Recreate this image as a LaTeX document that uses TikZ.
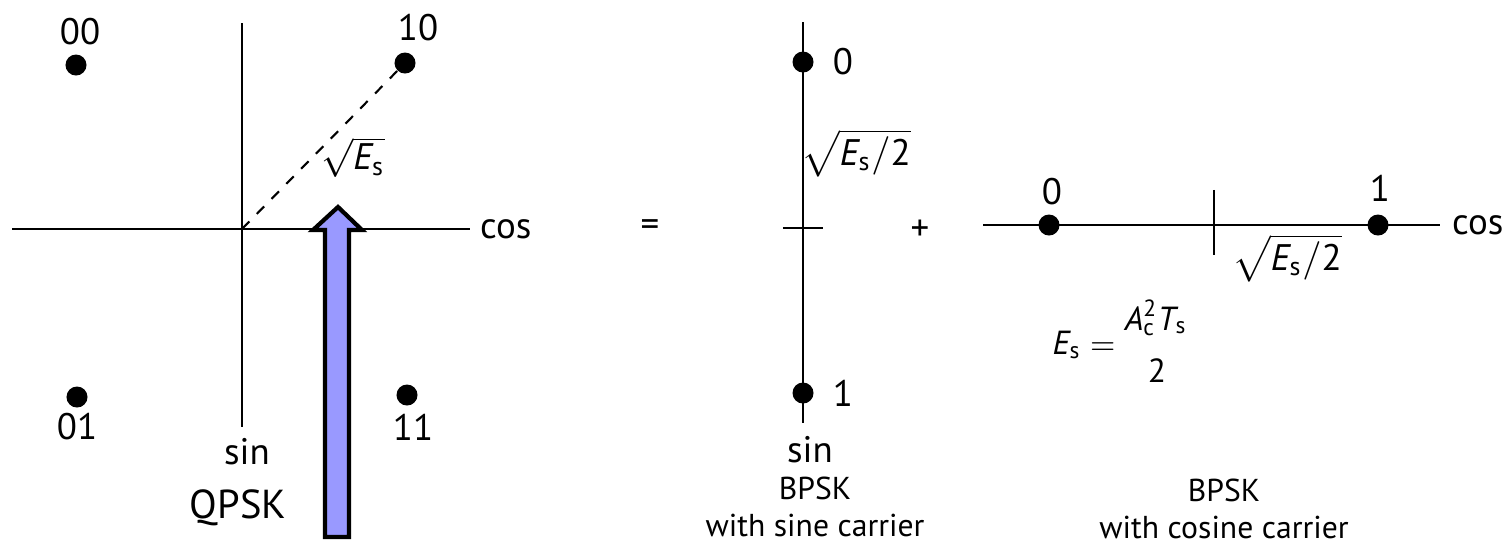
\documentclass[tikz,border=0pt]{standalone}
\usepackage{amsmath}
\usepackage{fontspec}
\setmainfont{PT Sans}
\definecolor{arrowblue}{RGB}{153,153,255}
\newcommand{\Esym}{\mathit{E}_\mathrm{s}}
\tikzset{
  dot/.style={circle, fill=black, inner sep=0pt, minimum size=0.21cm},
  axis/.style={line width=0.8pt},
  lbl/.style={font=\fontsize{10.5}{12}\selectfont, inner sep=1pt},
  frm/.style={font=\fontsize{9.5}{11}\selectfont, inner sep=0pt},
  capt/.style={font=\fontsize{9}{10.5}\selectfont, align=center},
}

\begin{document}
\begin{tikzpicture}[x=0.01cm, y=-0.01cm]
  \useasboundingbox (0,0) rectangle (1503,544);
  % QPSK
  \coordinate (qo) at (242,229);
  \coordinate (qw) at (12,229);
  \coordinate (qe) at (470,229);
  \coordinate (qn) at (242,23);
  \coordinate (qs) at (242,427);
  \draw[axis] (qw) -- (qe);
  \draw[line width=0.6pt] (qn) -- (qs);
  \node[lbl, anchor=west] (qcos) at ([xshift=0.06cm]qe) {cos};
  \node[lbl] (qsin) at (247,452) {sin};
  \node[dot] (d00) at (76,65) {};
  \node[lbl] (l00) at (80,32) {00};
  \node[dot] (d10) at (405,63) {};
  \node[lbl] (l10) at (418,28) {10};
  \node[dot] (d01) at (77,397) {};
  \node[lbl] (l01) at (77,427) {01};
  \node[dot] (d11) at (407,395) {};
  \node[lbl] (l11) at (413,427) {11};
  \draw[dashed, line width=0.6pt] (qo) -- (d10);
  \node[lbl] (qes) at (353,157) {$\sqrt{\Esym}$};
  \node[font=\fontsize{11.5}{13}\selectfont] (qpsk) at (238,508) {QPSK};
  % blue arrow
  \draw[line width=1.2pt, fill=arrowblue] (338,207) -- (362,230) -- (349,230)
    -- (349,537) -- (325,537) -- (325,230) -- (313,230) -- cycle;
  \node[lbl] (eq) at (650,228) {=};
  % BPSK, sine carrier
  \coordinate (sn) at (803,22);
  \coordinate (ss) at (803,423);
  \coordinate (so) at (803,228);
  \draw[axis] (sn) -- (ss);
  \draw[axis] ([xshift=-0.2cm]so) -- ([xshift=0.2cm]so);
  \node[dot] (s0) at (803,62) {};
  \node[lbl] (ls0) at (843,62) {0};
  \node[dot] (s1) at (803,393) {};
  \node[lbl] (ls1) at (843,393) {1};
  \node[lbl] (ses) at (856,153) {$\sqrt{\Esym/\mathrm{2}}$};
  \node[lbl] (ssin) at (810,450) {sin};
  \node[capt] (sbpsk) at (815,507) {BPSK\\with sine carrier};
  \node[lbl] (plus) at (920,230) {+};
  % BPSK, cosine carrier
  \coordinate (cw) at (983,225);
  \coordinate (ce) at (1440,225);
  \coordinate (co) at (1214,225);
  \draw[axis] (cw) -- (ce);
  \draw[axis] ([yshift=0.35cm]co) -- ([yshift=-0.3cm]co);
  \node[lbl, anchor=west] (ccos) at ([xshift=0.08cm]ce) {cos};
  \node[dot] (c0) at (1049,225) {};
  \node[lbl] (lc0) at (1052,192) {0};
  \node[dot] (c1) at (1378,225) {};
  \node[lbl] (lc1) at (1380,188) {1};
  \node[lbl] (ces) at (1287,258) {$\sqrt{\Esym/\mathrm{2}}$};
  \node[frm] (ceq) at (1084,345) {$\Esym=$};
  \node[frm] (cnum) at (1156,318) {$\mathit{A}_\mathrm{c}^\mathrm{2}\mathit{T}_\mathrm{s}$};
  \node[frm] (cden) at (1157,371) {2};
  \node[capt] (cbpsk) at (1224,509) {BPSK\\with cosine carrier};
\end{tikzpicture}
\end{document}
